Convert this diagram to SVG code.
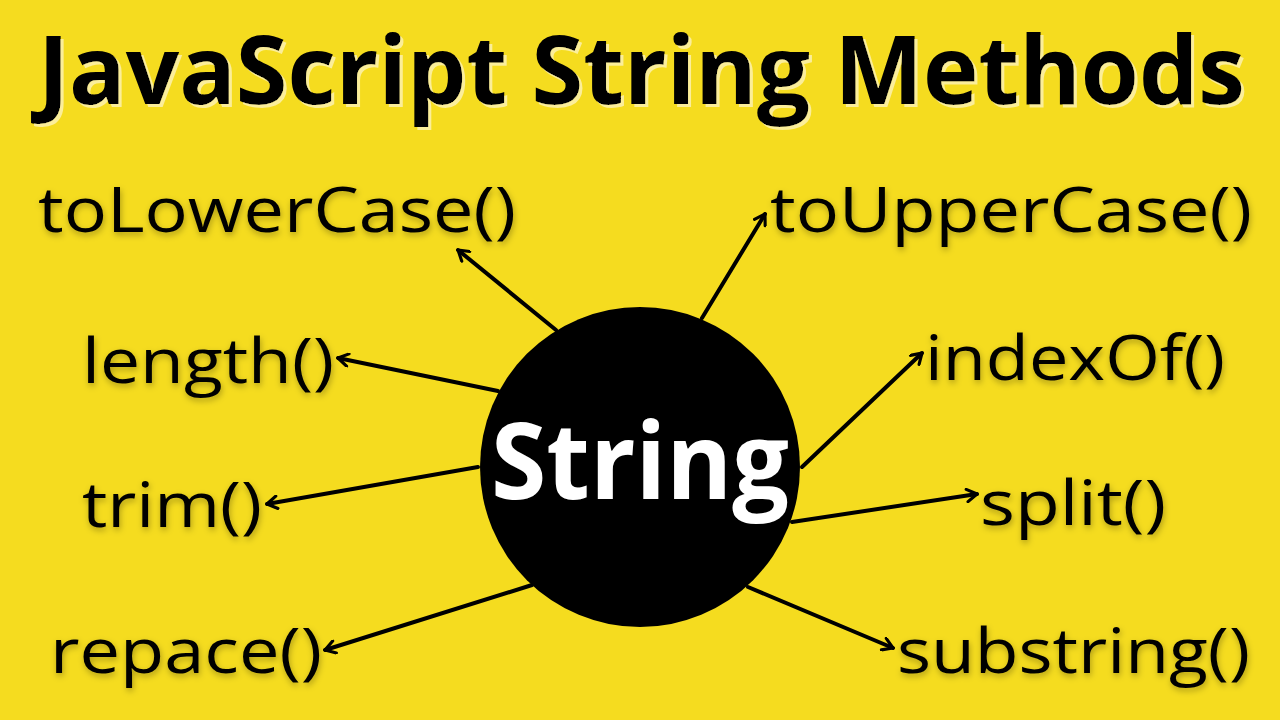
<svg xmlns="http://www.w3.org/2000/svg" width="1280" height="720" viewBox="0 0 1280 720">
<defs>
<style>
.title{font-family:"Open Sans","Noto Sans",sans-serif;font-weight:700;font-size:95px;fill:#000;filter:url(#tsh);}
.lbl{font-family:"Open Sans","Noto Sans",sans-serif;font-weight:400;font-size:62px;fill:#000;filter:url(#sh);}
.core{font-family:"Open Sans","Noto Sans",sans-serif;font-weight:700;font-size:106px;fill:#fff;}
.conn line{stroke:#000;stroke-width:4;stroke-linecap:round;marker-end:url(#ah);}
</style>
<marker id="ah" viewBox="0 0 12 12" refX="10" refY="6" markerWidth="15" markerHeight="15" markerUnits="userSpaceOnUse" orient="auto">
<path d="M2,1 L10,6 L2,11" fill="none" stroke="#000" stroke-width="2.5" stroke-linecap="round" stroke-linejoin="round"/>
</marker>
<filter id="sh" x="-10%" y="-30%" width="120%" height="160%">
<feDropShadow dx="1" dy="3" stdDeviation="3" flood-color="#000" flood-opacity="0.3"/>
</filter>
<filter id="tsh" x="-2%" y="-20%" width="104%" height="150%">
<feOffset in="SourceAlpha" dx="3" dy="3" result="o"/>
<feFlood flood-color="#FBEE9A"/>
<feComposite in2="o" operator="in" result="p"/>
<feMerge><feMergeNode in="p"/><feMergeNode in="SourceGraphic"/></feMerge>
</filter>
</defs>
<rect width="1280" height="720" fill="#F5DC1F"/>
<g id="title">
<text class="title" x="38" y="104" textLength="1207" lengthAdjust="spacingAndGlyphs">JavaScript String Methods</text>
</g>
<g class="conn" id="connectors">
<line x1="556" y1="330" x2="458" y2="250"/>
<line x1="702" y1="318" x2="765" y2="214"/>
<line x1="498" y1="391" x2="338" y2="358"/>
<line x1="478" y1="467" x2="267" y2="504"/>
<line x1="802" y1="467" x2="922" y2="353"/>
<line x1="792" y1="522" x2="977" y2="494"/>
<line x1="532" y1="585" x2="325" y2="650"/>
<line x1="748" y1="587" x2="893" y2="648"/>
</g>
<g id="string">
<circle cx="640" cy="467" r="160" fill="#000"/>
<text class="core" x="640" y="499" text-anchor="middle" textLength="298" lengthAdjust="spacingAndGlyphs">String</text>
</g>
<g id="toLowerCase"><text class="lbl" x="38" y="232" textLength="478" lengthAdjust="spacingAndGlyphs">toLowerCase()</text></g>
<g id="toUpperCase"><text class="lbl" x="770" y="232" textLength="482" lengthAdjust="spacingAndGlyphs">toUpperCase()</text></g>
<g id="length"><text class="lbl" x="82" y="383" textLength="252" lengthAdjust="spacingAndGlyphs">length()</text></g>
<g id="indexOf"><text class="lbl" x="925" y="380" textLength="300" lengthAdjust="spacingAndGlyphs">indexOf()</text></g>
<g id="trim"><text class="lbl" x="82" y="527" textLength="180" lengthAdjust="spacingAndGlyphs">trim()</text></g>
<g id="split"><text class="lbl" x="980" y="525" textLength="186" lengthAdjust="spacingAndGlyphs">split()</text></g>
<g id="repace"><text class="lbl" x="50" y="673" textLength="272" lengthAdjust="spacingAndGlyphs">repace()</text></g>
<g id="substring"><text class="lbl" x="897" y="673" textLength="353" lengthAdjust="spacingAndGlyphs">substring()</text></g>
</svg>
